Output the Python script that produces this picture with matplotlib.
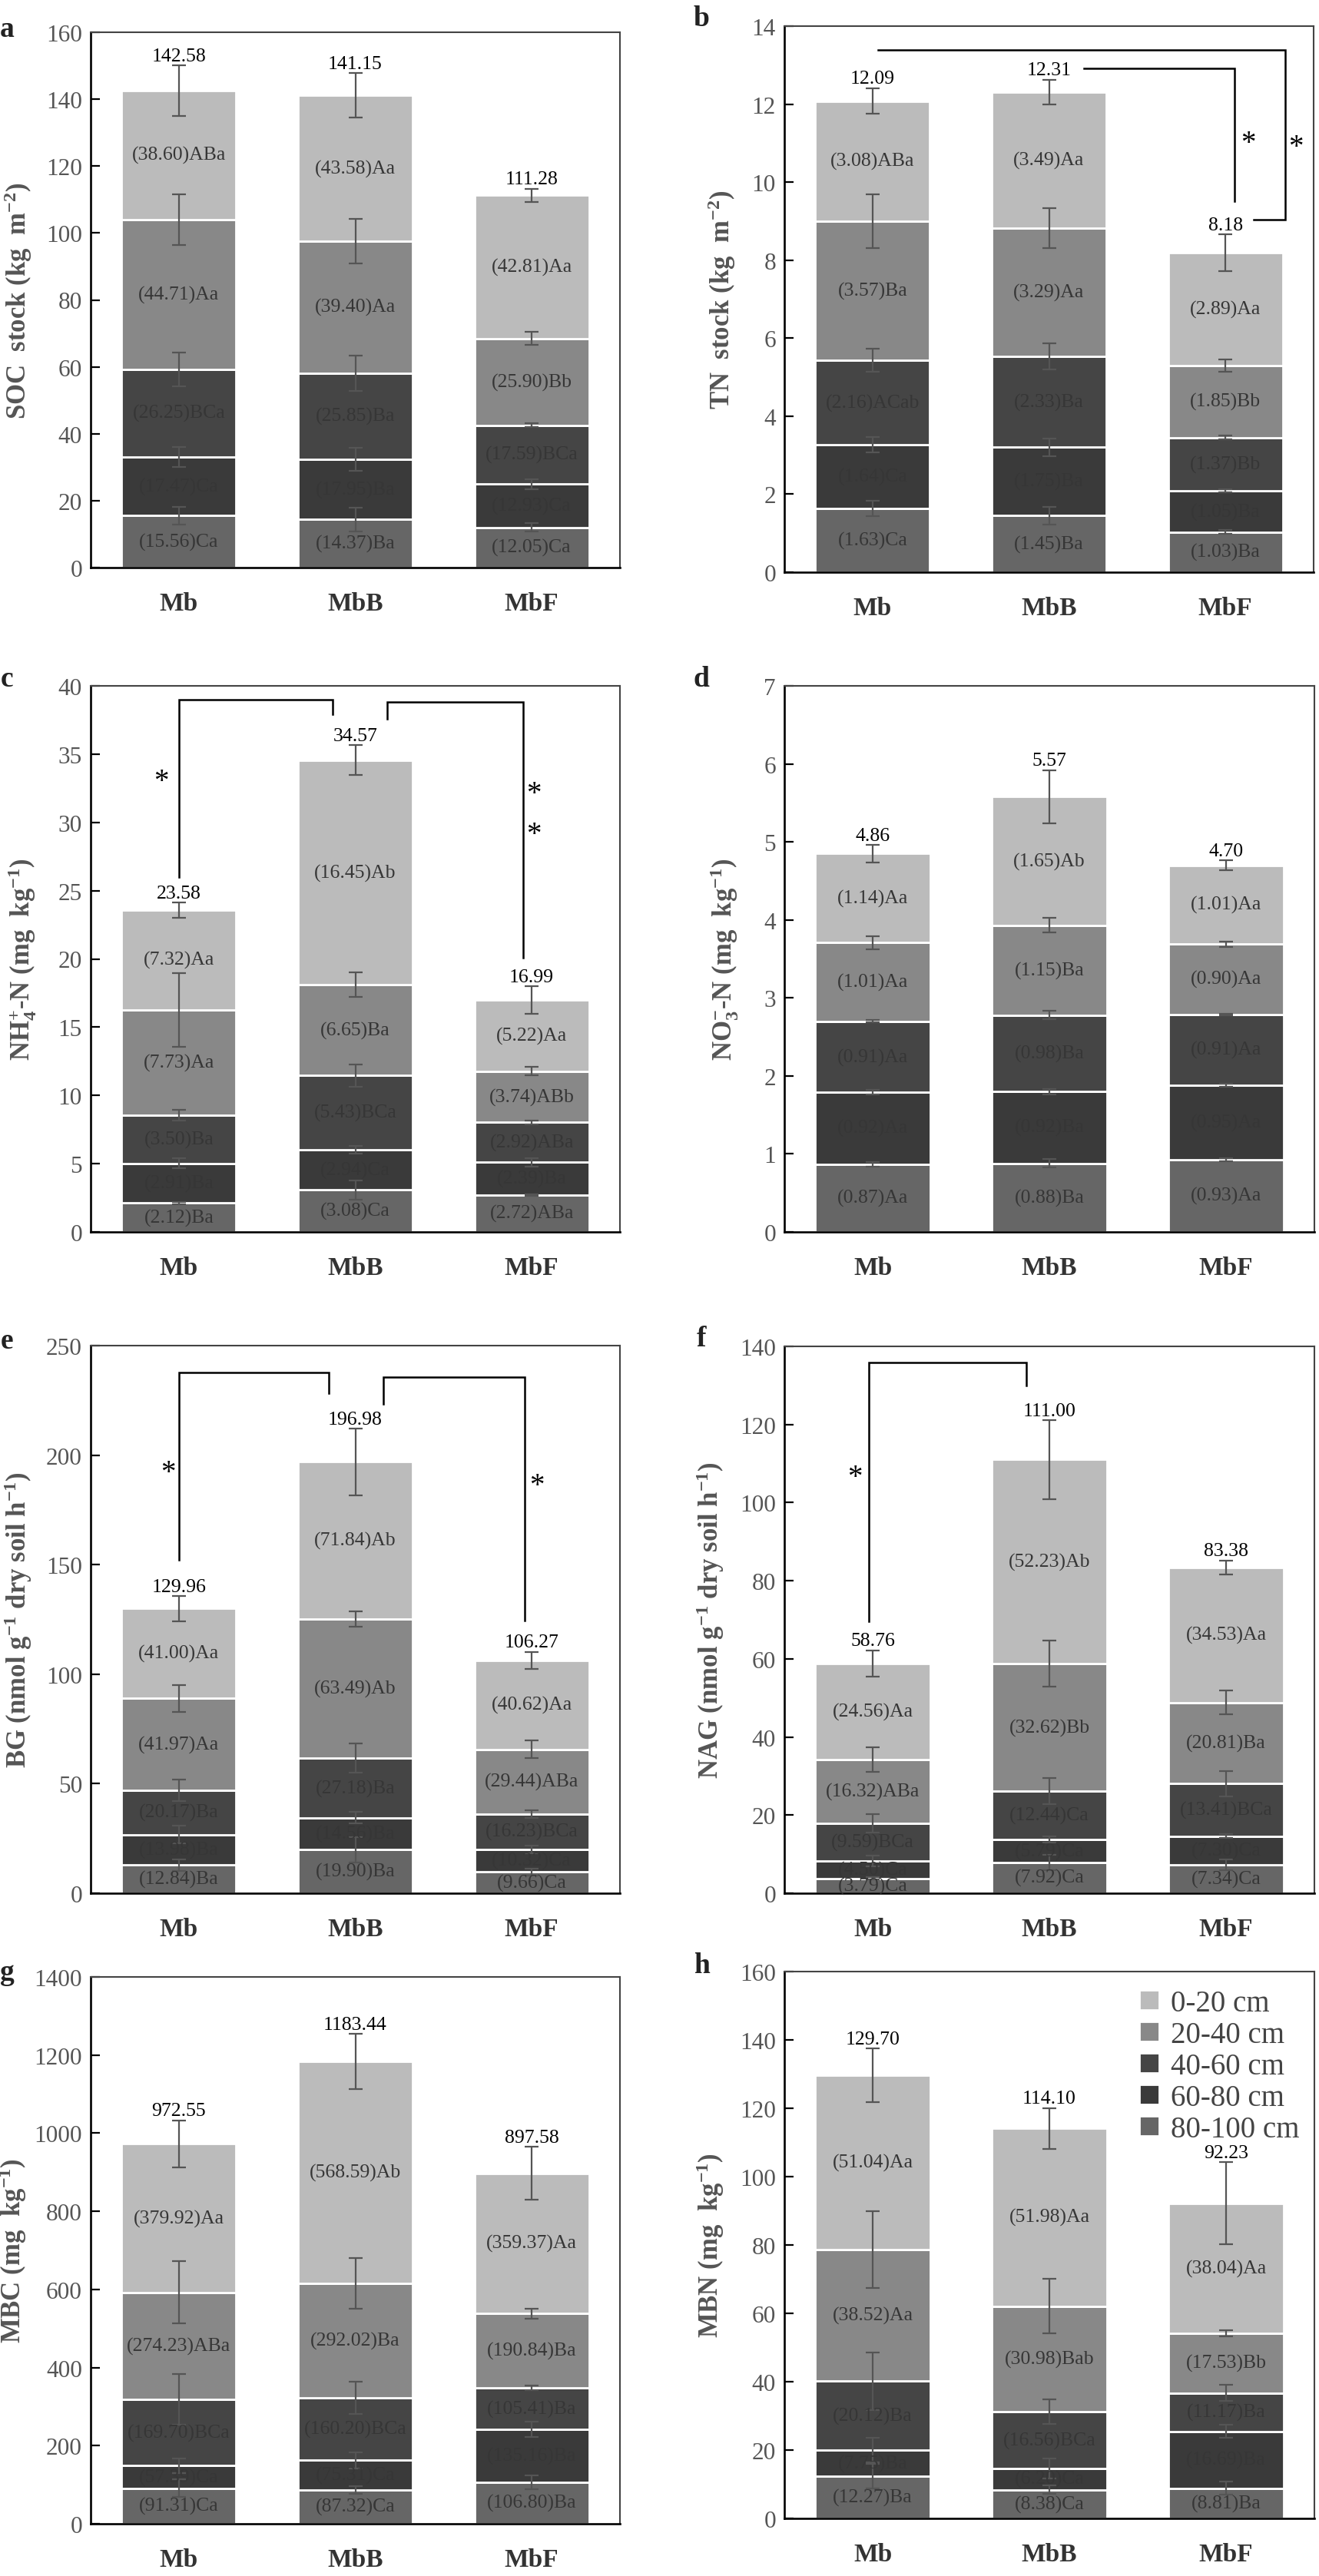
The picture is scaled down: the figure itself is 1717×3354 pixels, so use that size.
import matplotlib.pyplot as plt
import numpy as np

plt.rcParams['font.family'] = ['Liberation Serif', 'DejaVu Serif']
plt.rcParams['mathtext.fontset'] = 'custom'
plt.rcParams['mathtext.rm'] = 'Liberation Serif'
plt.rcParams['mathtext.bf'] = 'Liberation Serif:bold'
plt.rcParams['mathtext.it'] = 'Liberation Serif:italic'

TREATMENTS = ['Mb', 'MbB', 'MbF']
# stacking order, bottom to top
DEPTHS = ['80-100 cm', '60-80 cm', '40-60 cm', '20-40 cm', '0-20 cm']
DEPTH_COLORS = ['#666666', '#3a3a3a', '#454545', '#888888', '#bbbbbb']

# ---- a: SOC stock ----
soc_val = [[15.56, 14.37, 12.05], [17.47, 17.95, 12.93], [26.25, 25.85, 17.59],
           [44.71, 39.40, 25.90], [38.60, 43.58, 42.81]]
soc_err = [[2.6, 3.6, 1.2], [3.0, 3.5, 1.5], [5.0, 5.3, 0.5],
           [7.6, 6.6, 2.0], [7.5, 6.6, 2.0]]
soc_let = [['Ca', 'Ba', 'Ca'], ['Ca', 'Ba', 'Ca'], ['BCa', 'Ba', 'BCa'],
           ['Aa', 'Aa', 'Bb'], ['ABa', 'Aa', 'Aa']]
soc_tot = [142.58, 141.15, 111.28]

# ---- b: TN stock ----
tn_val = [[1.63, 1.45, 1.03], [1.64, 1.75, 1.05], [2.16, 2.33, 1.37],
          [3.57, 3.29, 1.85], [3.08, 3.49, 2.89]]
tn_err = [[0.20, 0.23, 0.05], [0.19, 0.23, 0.04], [0.30, 0.33, 0.05],
          [0.69, 0.52, 0.16], [0.33, 0.32, 0.47]]
tn_let = [['Ca', 'Ba', 'Ba'], ['Ca', 'Ba', 'Ba'], ['ACab', 'Ba', 'Bb'],
          ['Ba', 'Aa', 'Bb'], ['ABa', 'Aa', 'Aa']]
tn_tot = [12.09, 12.31, 8.18]

# ---- c: NH4+-N ----
nh4_val = [[2.12, 3.08, 2.72], [2.91, 2.94, 2.39], [3.50, 5.43, 2.92],
           [7.73, 6.65, 3.74], [7.32, 16.45, 5.22]]
nh4_err = [[0.10, 0.70, 0.05], [0.35, 0.30, 0.30], [0.40, 0.80, 0.15],
           [2.70, 0.90, 0.32], [0.56, 1.10, 1.00]]
nh4_let = [['Ba', 'Ca', 'ABa'], ['Ba', 'Ca', 'Ba'], ['Ba', 'BCa', 'ABa'],
           ['Aa', 'Ba', 'ABb'], ['Aa', 'Ab', 'Aa']]
nh4_tot = [23.58, 34.57, 16.99]

# ---- d: NO3--N ----
no3_val = [[0.87, 0.88, 0.93], [0.92, 0.92, 0.95], [0.91, 0.98, 0.91],
           [1.01, 1.15, 0.90], [1.14, 1.65, 1.01]]
no3_err = [[0.03, 0.055, 0.02], [0.03, 0.035, 0.02], [0.015, 0.055, 0.01],
           [0.085, 0.095, 0.035], [0.11, 0.34, 0.065]]
no3_let = [['Aa', 'Ba', 'Aa'], ['Aa', 'Ba', 'Aa'], ['Aa', 'Ba', 'Aa'],
           ['Aa', 'Ba', 'Aa'], ['Aa', 'Ab', 'Aa']]
no3_tot = [4.86, 5.57, 4.70]

# ---- e: BG ----
bg_val = [[12.84, 19.90, 9.66], [13.98, 14.56, 10.32], [20.17, 27.18, 16.23],
          [41.97, 63.49, 29.44], [41.00, 71.84, 40.62]]
bg_err = [[2.7, 5.7, 1.7], [3.9, 2.7, 1.7], [4.8, 6.6, 1.8],
          [6.2, 3.6, 4.1], [5.7, 15.2, 3.9]]
bg_let = [['Ba', 'Ba', 'Ca'], ['Ba', 'Ba', 'Ca'], ['Ba', 'Ba', 'BCa'],
          ['Aa', 'Ab', 'ABa'], ['Aa', 'Ab', 'Aa']]
bg_tot = [129.96, 196.98, 106.27]

# ---- f: NAG ----
nag_val = [[3.79, 7.92, 7.34], [4.50, 5.79, 7.30], [9.59, 12.44, 13.41],
           [16.32, 32.62, 20.81], [24.56, 52.23, 34.53]]
nag_err = [[0.3, 2.0, 1.4], [1.4, 0.8, 0.5], [2.4, 3.3, 3.2],
           [3.1, 5.9, 3.0], [3.4, 10.1, 1.8]]
nag_let = [['Ca', 'Ca', 'Ca'], ['Ca', 'Ca', 'Ca'], ['BCa', 'Ca', 'BCa'],
           ['ABa', 'Bb', 'Ba'], ['Aa', 'Ab', 'Aa']]
nag_tot = [58.76, 111.00, 83.38]

# ---- g: MBC ----
mbc_val = [[91.31, 87.32, 106.80], [57.39, 75.31, 135.16], [169.70, 160.20, 105.41],
           [274.23, 292.02, 190.84], [379.92, 568.59, 359.37]]
mbc_err = [[22, 10, 18], [18, 21, 20], [65, 41, 6],
           [80, 65, 13], [60, 71, 67]]
mbc_let = [['Ca', 'Ca', 'Ba'], ['Ca', 'Ca', 'Ba'], ['BCa', 'BCa', 'Ba'],
           ['ABa', 'Ba', 'Ba'], ['Aa', 'Ab', 'Aa']]
mbc_tot = [972.55, 1183.44, 897.58]

# ---- h: MBN ----
mbn_val = [[12.27, 8.38, 8.81], [7.75, 6.20, 16.69], [20.12, 16.56, 11.17],
           [38.52, 30.98, 17.53], [51.04, 51.98, 38.04]]
mbn_err = [[3.6, 1.2, 1.9], [3.6, 2.9, 2.0], [8.5, 3.6, 2.4],
           [11.2, 7.9, 0.9], [7.8, 6.0, 12.0]]
mbn_let = [['Ba', 'Ca', 'Ba'], ['Ba', 'Ca', 'Ba'], ['Ba', 'BCa', 'Ba'],
           ['Aa', 'Bab', 'Bb'], ['Aa', 'Aa', 'Aa']]
mbn_tot = [129.70, 114.10, 92.23]

# significance brackets: polyline vertices (bar index, value) and star positions
tn_brackets = [[(0.03, 13.38), (2.34, 13.38), (2.34, 9.04), (2.16, 9.04)],
               [(1.20, 12.92), (2.05, 12.92), (2.05, 9.52)]]
tn_stars = [(2.13, 11.0), (2.40, 10.9)]
nh4_brackets = [[(0.0, 26.0), (0.0, 39.0), (0.87, 39.0), (0.87, 37.9)],
                [(1.18, 37.6), (1.18, 38.8), (1.95, 38.8), (1.95, 20.06)]]
nh4_stars = [(-0.10, 33.0), (2.01, 32.1), (2.01, 29.1)]
bg_brackets = [[(0.0, 152.2), (0.0, 237.9), (0.85, 237.9), (0.85, 228.4)],
               [(1.16, 223.4), (1.16, 235.7), (1.96, 235.7), (1.96, 124.4)]]
bg_stars = [(-0.06, 192.0), (2.03, 186.0)]
nag_brackets = [[(-0.02, 69.6), (-0.02, 135.9), (0.87, 135.9), (0.87, 130.0)]]
nag_stars = [(-0.10, 106.4)]

W, H = 1717, 3355
fig = plt.figure(figsize=(W / 100, H / 100), dpi=100)


def make_axes(left, top, right, bottom):
    return fig.add_axes([left / W, 1 - bottom / H, (right - left) / W, (bottom - top) / H])


def draw_panel(ax, vals, errs, lets, tots, ymax, ystep, ylabel, ylabel_x, letter, lpos,
               brackets=(), stars=()):
    x = np.arange(len(TREATMENTS))
    bottom = np.zeros(len(TREATMENTS))
    for d in range(len(DEPTHS)):
        v = np.array(vals[d])
        ax.bar(x, v, 0.65, bottom=bottom, color=DEPTH_COLORS[d],
               edgecolor='white', linewidth=2.0, label=DEPTHS[d], zorder=2)
        top = bottom + v
        ax.errorbar(x, top, yerr=errs[d], fmt='none', ecolor='#555555',
                    elinewidth=1.6, capsize=6.5, capthick=1.6, zorder=3)
        for i in range(len(x)):
            ax.text(x[i], bottom[i] + v[i] / 2, '(%.2f)%s' % (v[i], lets[d][i]),
                    ha='center', va='center', fontsize=18.5, color='#363636', zorder=4)
        bottom = top
    # totals above the error bar of the top layer
    for i in range(len(x)):
        ax.annotate('%.2f' % tots[i], (x[i], bottom[i] + errs[-1][i]),
                    xytext=(0, 1), textcoords='offset points',
                    ha='center', va='bottom', fontsize=18.5, color='black', zorder=5)
    for br in brackets:
        bx, by = zip(*br)
        ax.plot(bx, by, color='black', linewidth=1.8, solid_joinstyle='miter', zorder=5)
    for sx, sy in stars:
        ax.text(sx, sy, '*', ha='center', va='center', fontsize=28, zorder=5)

    ax.set_xlim(-0.5, 2.5)
    ax.set_ylim(0, ymax)
    ax.set_yticks(np.arange(0, ymax + ystep / 2, ystep))
    ax.set_xticks(x)
    ax.set_xticklabels(TREATMENTS, fontsize=24, fontweight='bold', color='#333333')
    ax.tick_params(axis='x', length=0, pad=22)
    ax.tick_params(axis='y', direction='in', length=8.5, width=1.6,
                   labelsize=22.5, labelcolor='#555555', pad=8)
    ax.set_ylabel(ylabel, fontsize=25, fontweight='bold', color='#555555')
    ax.yaxis.set_label_coords(ylabel_x, 0.5)
    for s in ['left', 'bottom']:
        ax.spines[s].set_color('black')
        ax.spines[s].set_linewidth(1.9)
    for s in ['top', 'right']:
        ax.spines[s].set_color('#444444')
        ax.spines[s].set_linewidth(1.5)
    fig.text(lpos[0] / W, 1 - lpos[1] / H, letter, fontsize=27, fontweight='bold',
             ha='center', va='center', color='#222222')


ax_a = make_axes(118, 43, 807, 740)
draw_panel(ax_a, soc_val, soc_err, soc_let, soc_tot, 160, 20,
           r'SOC  stock (kg  m$^{\mathbf{-2}}$)', -0.108, 'a', (9, 38))

ax_b = make_axes(1021, 35, 1710, 746)
draw_panel(ax_b, tn_val, tn_err, tn_let, tn_tot, 14, 2,
           r'TN  stock (kg  m$^{\mathbf{-2}}$)', -0.088, 'b', (913, 25),
           tn_brackets, tn_stars)

ax_c = make_axes(118, 894, 807, 1605)
draw_panel(ax_c, nh4_val, nh4_err, nh4_let, nh4_tot, 40, 5,
           r'NH$_{\mathbf{4}}^{\mathbf{+}}$-N (mg  kg$^{\mathbf{-1}}$)', -0.098, 'c', (9, 884),
           nh4_brackets, nh4_stars)

ax_d = make_axes(1021, 894, 1711, 1605)
draw_panel(ax_d, no3_val, no3_err, no3_let, no3_tot, 7, 1,
           r'NO$_{\mathbf{3}}^{\mathbf{-}}$-N (mg  kg$^{\mathbf{-1}}$)', -0.082, 'd', (913, 884))

ax_e = make_axes(118, 1753, 807, 2466)
draw_panel(ax_e, bg_val, bg_err, bg_let, bg_tot, 250, 50,
           r'BG (nmol g$^{\mathbf{-1}}$ dry soil h$^{\mathbf{-1}}$)', -0.108, 'e', (9, 1747),
           bg_brackets, bg_stars)

ax_f = make_axes(1021, 1754, 1711, 2466)
draw_panel(ax_f, nag_val, nag_err, nag_let, nag_tot, 140, 20,
           r'NAG (nmol g$^{\mathbf{-1}}$ dry soil h$^{\mathbf{-1}}$)', -0.110, 'f', (913, 1744),
           nag_brackets, nag_stars)

ax_g = make_axes(118, 2575, 807, 3287)
draw_panel(ax_g, mbc_val, mbc_err, mbc_let, mbc_tot, 1400, 200,
           r'MBC (mg  kg$^{\mathbf{-1}}$)', -0.118, 'g', (9, 2568))

ax_h = make_axes(1021, 2568, 1711, 3280)
draw_panel(ax_h, mbn_val, mbn_err, mbn_let, mbn_tot, 160, 20,
           r'MBN (mg  kg$^{\mathbf{-1}}$)', -0.110, 'h', (913, 2560))

handles, labels = ax_h.get_legend_handles_labels()
leg = ax_h.legend(handles[::-1], labels[::-1], loc='upper right', frameon=False,
                  fontsize=28, handlelength=0.65, handleheight=0.65,
                  handletextpad=0.4, labelspacing=0.1, borderaxespad=0.1,
                  bbox_to_anchor=(1.0, 0.995))
for t in leg.get_texts():
    t.set_color('#444444')

fig.savefig('out.png', dpi=100)
